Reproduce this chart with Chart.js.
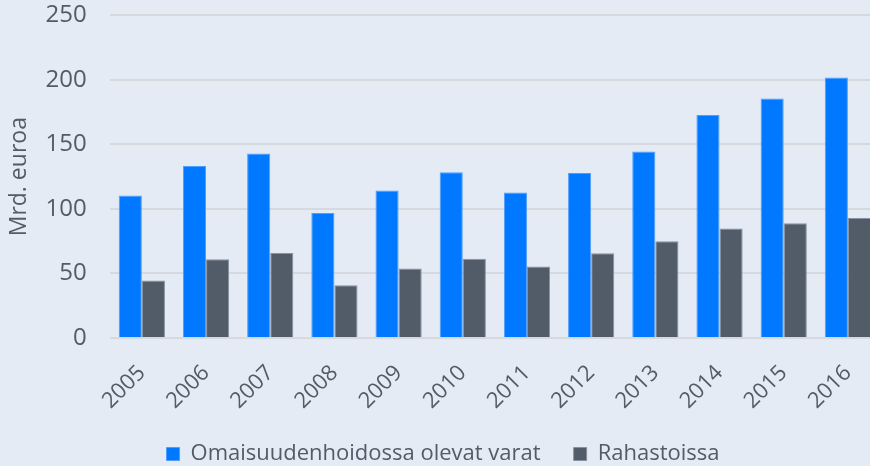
<!DOCTYPE html>
<html>
<head>
<meta charset="utf-8">
<script src="https://cdn.jsdelivr.net/npm/chart.js@4"></script>
<style>
  html, body { margin: 0; padding: 0; background: #e4ebf5; overflow: hidden; }
  #wrap { position: absolute; left: 0; top: 0; width: 880px; height: 475px; }
</style>
</head>
<body>
<div id="wrap"><canvas id="chart"></canvas></div>
<script>
const years = ['2005', '2006', '2007', '2008', '2009', '2010', '2011', '2012', '2013', '2014', '2015', '2016'];
const omaisuudenhoidossa = [110.4, 133.3, 143, 96.9, 114.3, 128.5, 112.7, 127.8, 144.5, 172.9, 185.6, 201.8];
const rahastoissa = [44.5, 61, 65.9, 40.9, 53.9, 61.4, 55.5, 65.6, 75, 84.8, 89, 93];
const yTicks = [0, 50, 100, 150, 200, 250];

const textColor = '#535b67';
const fontFamily = '"Open Sans", Lato, sans-serif';

new Chart(document.getElementById('chart'), {
  type: 'bar',
  data: {
    labels: years,
    datasets: [
      {
        label: 'Omaisuudenhoidossa olevat varat',
        data: omaisuudenhoidossa,
        backgroundColor: '#0078ff',
        borderColor: '#4f9cff',
        borderWidth: 1
      },
      {
        label: 'Rahastoissa',
        data: rahastoissa,
        backgroundColor: '#525c69',
        borderColor: '#8991a0',
        borderWidth: 1
      }
    ]
  },
  options: {
    responsive: true,
    maintainAspectRatio: false,
    animation: false,
    layout: { padding: { top: 5, left: 6, right: 0, bottom: 0 } },
    datasets: {
      bar: { categoryPercentage: 0.72, barPercentage: 1.0 }
    },
    plugins: {
      tooltip: { enabled: false },
      legend: {
        position: 'bottom',
        labels: {
          color: textColor,
          font: { family: fontFamily, size: 22 },
          boxWidth: 13,
          boxHeight: 13,
          padding: 33
        }
      }
    },
    scales: {
      x: {
        grid: { display: false, drawTicks: true, tickLength: 20 },
        border: { display: false },
        ticks: {
          color: textColor,
          font: { family: fontFamily, size: 22 },
          maxRotation: 45,
          minRotation: 45,
          padding: 2
        },
        afterFit: scale => { scale.height = 72; }
      },
      y: {
        min: 0,
        max: 250,
        afterBuildTicks: axis => { axis.ticks = yTicks.map(v => ({ value: v })); },
        grid: { color: '#d6d9de', lineWidth: 2, drawTicks: true, tickLength: 22, tickColor: 'rgba(0,0,0,0)' },
        border: { display: false },
        ticks: {
          color: textColor,
          font: { family: fontFamily, size: 24 },
          padding: 1
        },
        title: {
          display: true,
          text: 'Mrd. euroa',
          color: textColor,
          font: { family: fontFamily, size: 23 },
          padding: { top: 0, bottom: 11 }
        }
      }
    }
  }
});
</script>
</body>
</html>
